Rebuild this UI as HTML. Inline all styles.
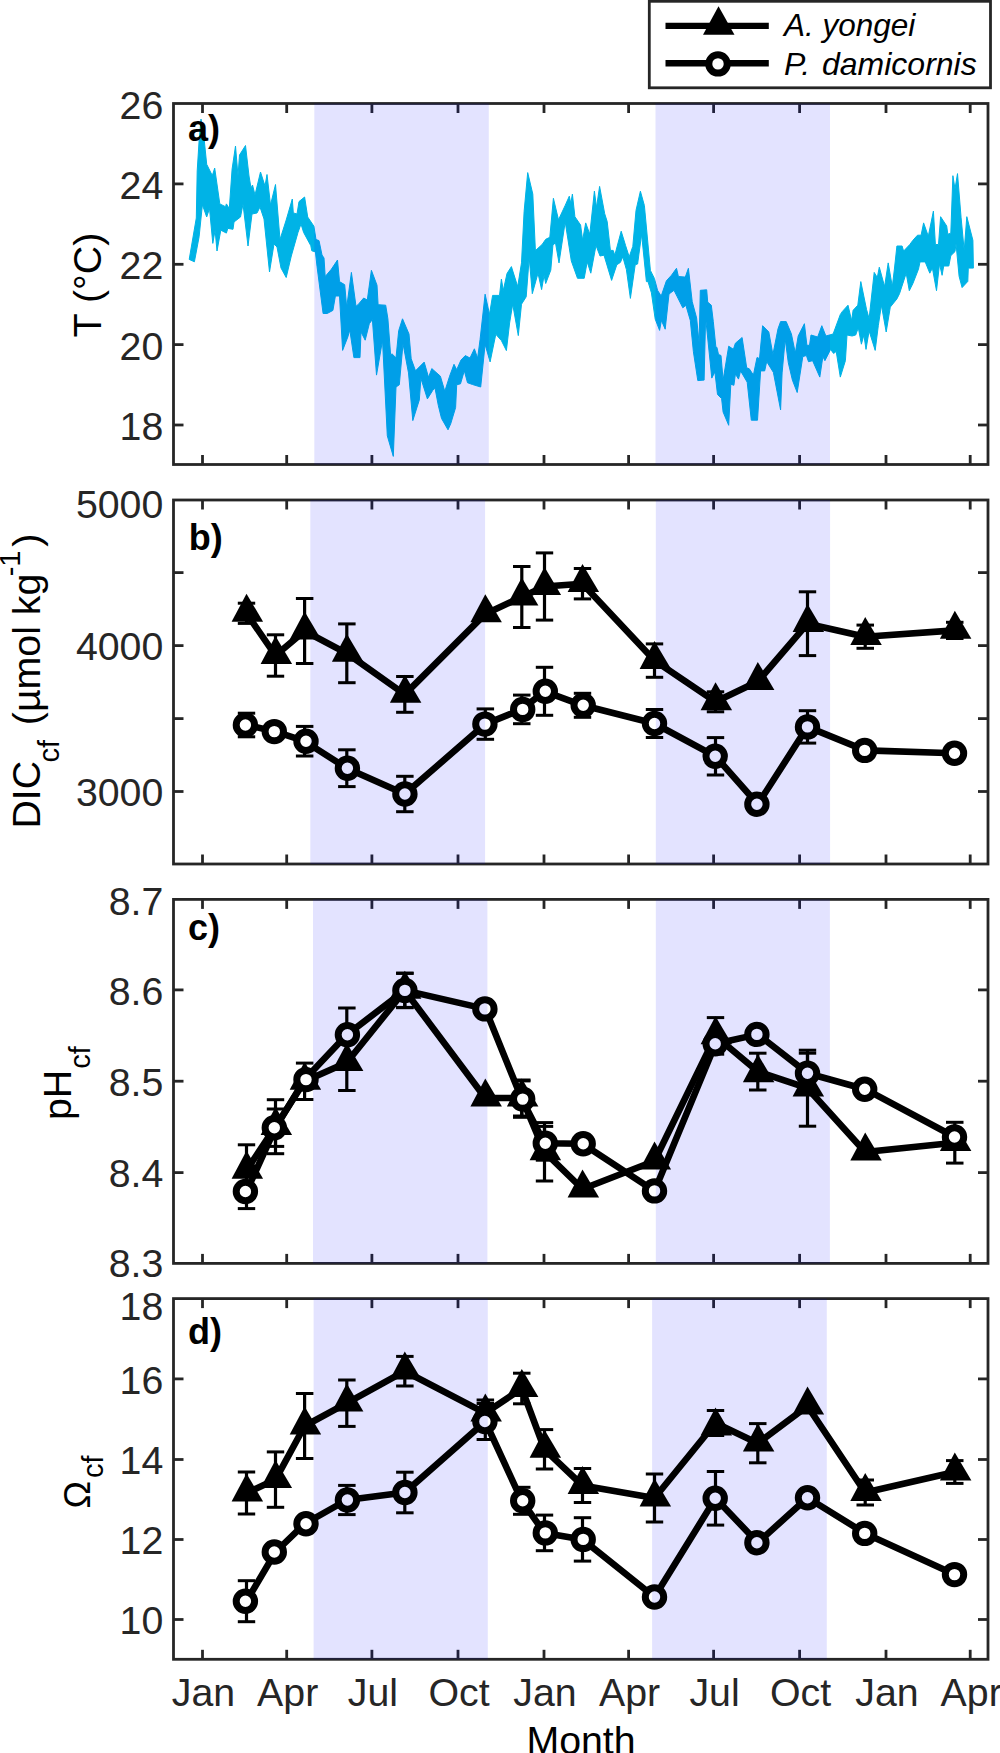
<!DOCTYPE html>
<html><head><meta charset="utf-8"><title>figure</title><style>
html,body{margin:0;padding:0;background:#fff;}
body{width:1000px;height:1753px;overflow:hidden;}
svg{display:block;}
text{font-family:"Liberation Sans",sans-serif;}
.tk{font-size:39.3px;fill:#262626;}
.pl{font-size:36px;font-weight:bold;fill:#000;}
.lab{font-size:39.3px;fill:#000;}
.sub{font-size:29px;}
.lg{font-size:31.5px;font-style:italic;fill:#000;}
</style></head><body>
<svg width="1000" height="1753" viewBox="0 0 1000 1753">
<defs><clipPath id="scb"><rect x="310.3" y="500" width="174.8" height="364"/><rect x="655.8" y="500" width="174.3" height="364"/></clipPath><clipPath id="scc"><rect x="313" y="899.4" width="174.4" height="364"/><rect x="655.8" y="899.4" width="174.1" height="364"/></clipPath><clipPath id="scd"><rect x="313.6" y="1298.6" width="174.2" height="360.7"/><rect x="652.1" y="1298.6" width="174.7" height="360.7"/></clipPath></defs>
<rect x="0" y="0" width="1000" height="1753" fill="#fff"/>
<rect x="173.5" y="103.5" width="814.5" height="361.0" fill="none" stroke="#262626" stroke-width="2.8"/>
<line x1="202.5" y1="103.5" x2="202.5" y2="113.0" stroke="#262626" stroke-width="2.8"/>
<line x1="202.5" y1="464.5" x2="202.5" y2="455.0" stroke="#262626" stroke-width="2.8"/>
<line x1="286.7" y1="103.5" x2="286.7" y2="113.0" stroke="#262626" stroke-width="2.8"/>
<line x1="286.7" y1="464.5" x2="286.7" y2="455.0" stroke="#262626" stroke-width="2.8"/>
<line x1="371.9" y1="103.5" x2="371.9" y2="113.0" stroke="#262626" stroke-width="2.8"/>
<line x1="371.9" y1="464.5" x2="371.9" y2="455.0" stroke="#262626" stroke-width="2.8"/>
<line x1="458.0" y1="103.5" x2="458.0" y2="113.0" stroke="#262626" stroke-width="2.8"/>
<line x1="458.0" y1="464.5" x2="458.0" y2="455.0" stroke="#262626" stroke-width="2.8"/>
<line x1="544.0" y1="103.5" x2="544.0" y2="113.0" stroke="#262626" stroke-width="2.8"/>
<line x1="544.0" y1="464.5" x2="544.0" y2="455.0" stroke="#262626" stroke-width="2.8"/>
<line x1="628.6" y1="103.5" x2="628.6" y2="113.0" stroke="#262626" stroke-width="2.8"/>
<line x1="628.6" y1="464.5" x2="628.6" y2="455.0" stroke="#262626" stroke-width="2.8"/>
<line x1="713.6" y1="103.5" x2="713.6" y2="113.0" stroke="#262626" stroke-width="2.8"/>
<line x1="713.6" y1="464.5" x2="713.6" y2="455.0" stroke="#262626" stroke-width="2.8"/>
<line x1="799.6" y1="103.5" x2="799.6" y2="113.0" stroke="#262626" stroke-width="2.8"/>
<line x1="799.6" y1="464.5" x2="799.6" y2="455.0" stroke="#262626" stroke-width="2.8"/>
<line x1="886.0" y1="103.5" x2="886.0" y2="113.0" stroke="#262626" stroke-width="2.8"/>
<line x1="886.0" y1="464.5" x2="886.0" y2="455.0" stroke="#262626" stroke-width="2.8"/>
<line x1="970.2" y1="103.5" x2="970.2" y2="113.0" stroke="#262626" stroke-width="2.8"/>
<line x1="970.2" y1="464.5" x2="970.2" y2="455.0" stroke="#262626" stroke-width="2.8"/>
<line x1="173.5" y1="183.9" x2="183.5" y2="183.9" stroke="#262626" stroke-width="2.8"/>
<line x1="988.0" y1="183.9" x2="978.0" y2="183.9" stroke="#262626" stroke-width="2.8"/>
<line x1="173.5" y1="264.3" x2="183.5" y2="264.3" stroke="#262626" stroke-width="2.8"/>
<line x1="988.0" y1="264.3" x2="978.0" y2="264.3" stroke="#262626" stroke-width="2.8"/>
<line x1="173.5" y1="344.6" x2="183.5" y2="344.6" stroke="#262626" stroke-width="2.8"/>
<line x1="988.0" y1="344.6" x2="978.0" y2="344.6" stroke="#262626" stroke-width="2.8"/>
<line x1="173.5" y1="425.0" x2="183.5" y2="425.0" stroke="#262626" stroke-width="2.8"/>
<line x1="988.0" y1="425.0" x2="978.0" y2="425.0" stroke="#262626" stroke-width="2.8"/>
<text x="163.3" y="118.5" text-anchor="end" class="tk">26</text>
<text x="163.3" y="198.6" text-anchor="end" class="tk">24</text>
<text x="163.3" y="279.1" text-anchor="end" class="tk">22</text>
<text x="163.3" y="359.8" text-anchor="end" class="tk">20</text>
<text x="163.3" y="440.3" text-anchor="end" class="tk">18</text>
<rect x="173.5" y="500.0" width="814.5" height="364.0" fill="none" stroke="#262626" stroke-width="2.8"/>
<line x1="202.5" y1="500.0" x2="202.5" y2="509.5" stroke="#262626" stroke-width="2.8"/>
<line x1="202.5" y1="864.0" x2="202.5" y2="854.5" stroke="#262626" stroke-width="2.8"/>
<line x1="286.7" y1="500.0" x2="286.7" y2="509.5" stroke="#262626" stroke-width="2.8"/>
<line x1="286.7" y1="864.0" x2="286.7" y2="854.5" stroke="#262626" stroke-width="2.8"/>
<line x1="371.9" y1="500.0" x2="371.9" y2="509.5" stroke="#262626" stroke-width="2.8"/>
<line x1="371.9" y1="864.0" x2="371.9" y2="854.5" stroke="#262626" stroke-width="2.8"/>
<line x1="458.0" y1="500.0" x2="458.0" y2="509.5" stroke="#262626" stroke-width="2.8"/>
<line x1="458.0" y1="864.0" x2="458.0" y2="854.5" stroke="#262626" stroke-width="2.8"/>
<line x1="544.0" y1="500.0" x2="544.0" y2="509.5" stroke="#262626" stroke-width="2.8"/>
<line x1="544.0" y1="864.0" x2="544.0" y2="854.5" stroke="#262626" stroke-width="2.8"/>
<line x1="628.6" y1="500.0" x2="628.6" y2="509.5" stroke="#262626" stroke-width="2.8"/>
<line x1="628.6" y1="864.0" x2="628.6" y2="854.5" stroke="#262626" stroke-width="2.8"/>
<line x1="713.6" y1="500.0" x2="713.6" y2="509.5" stroke="#262626" stroke-width="2.8"/>
<line x1="713.6" y1="864.0" x2="713.6" y2="854.5" stroke="#262626" stroke-width="2.8"/>
<line x1="799.6" y1="500.0" x2="799.6" y2="509.5" stroke="#262626" stroke-width="2.8"/>
<line x1="799.6" y1="864.0" x2="799.6" y2="854.5" stroke="#262626" stroke-width="2.8"/>
<line x1="886.0" y1="500.0" x2="886.0" y2="509.5" stroke="#262626" stroke-width="2.8"/>
<line x1="886.0" y1="864.0" x2="886.0" y2="854.5" stroke="#262626" stroke-width="2.8"/>
<line x1="970.2" y1="500.0" x2="970.2" y2="509.5" stroke="#262626" stroke-width="2.8"/>
<line x1="970.2" y1="864.0" x2="970.2" y2="854.5" stroke="#262626" stroke-width="2.8"/>
<line x1="173.5" y1="572.6" x2="183.5" y2="572.6" stroke="#262626" stroke-width="2.8"/>
<line x1="988.0" y1="572.6" x2="978.0" y2="572.6" stroke="#262626" stroke-width="2.8"/>
<line x1="173.5" y1="645.6" x2="183.5" y2="645.6" stroke="#262626" stroke-width="2.8"/>
<line x1="988.0" y1="645.6" x2="978.0" y2="645.6" stroke="#262626" stroke-width="2.8"/>
<line x1="173.5" y1="718.6" x2="183.5" y2="718.6" stroke="#262626" stroke-width="2.8"/>
<line x1="988.0" y1="718.6" x2="978.0" y2="718.6" stroke="#262626" stroke-width="2.8"/>
<line x1="173.5" y1="791.5" x2="183.5" y2="791.5" stroke="#262626" stroke-width="2.8"/>
<line x1="988.0" y1="791.5" x2="978.0" y2="791.5" stroke="#262626" stroke-width="2.8"/>
<text x="163.3" y="517.8" text-anchor="end" class="tk">5000</text>
<text x="163.3" y="660.3" text-anchor="end" class="tk">4000</text>
<text x="163.3" y="805.6" text-anchor="end" class="tk">3000</text>
<rect x="173.5" y="899.4" width="814.5" height="364.0000000000001" fill="none" stroke="#262626" stroke-width="2.8"/>
<line x1="202.5" y1="899.4" x2="202.5" y2="908.9" stroke="#262626" stroke-width="2.8"/>
<line x1="202.5" y1="1263.4" x2="202.5" y2="1253.9" stroke="#262626" stroke-width="2.8"/>
<line x1="286.7" y1="899.4" x2="286.7" y2="908.9" stroke="#262626" stroke-width="2.8"/>
<line x1="286.7" y1="1263.4" x2="286.7" y2="1253.9" stroke="#262626" stroke-width="2.8"/>
<line x1="371.9" y1="899.4" x2="371.9" y2="908.9" stroke="#262626" stroke-width="2.8"/>
<line x1="371.9" y1="1263.4" x2="371.9" y2="1253.9" stroke="#262626" stroke-width="2.8"/>
<line x1="458.0" y1="899.4" x2="458.0" y2="908.9" stroke="#262626" stroke-width="2.8"/>
<line x1="458.0" y1="1263.4" x2="458.0" y2="1253.9" stroke="#262626" stroke-width="2.8"/>
<line x1="544.0" y1="899.4" x2="544.0" y2="908.9" stroke="#262626" stroke-width="2.8"/>
<line x1="544.0" y1="1263.4" x2="544.0" y2="1253.9" stroke="#262626" stroke-width="2.8"/>
<line x1="628.6" y1="899.4" x2="628.6" y2="908.9" stroke="#262626" stroke-width="2.8"/>
<line x1="628.6" y1="1263.4" x2="628.6" y2="1253.9" stroke="#262626" stroke-width="2.8"/>
<line x1="713.6" y1="899.4" x2="713.6" y2="908.9" stroke="#262626" stroke-width="2.8"/>
<line x1="713.6" y1="1263.4" x2="713.6" y2="1253.9" stroke="#262626" stroke-width="2.8"/>
<line x1="799.6" y1="899.4" x2="799.6" y2="908.9" stroke="#262626" stroke-width="2.8"/>
<line x1="799.6" y1="1263.4" x2="799.6" y2="1253.9" stroke="#262626" stroke-width="2.8"/>
<line x1="886.0" y1="899.4" x2="886.0" y2="908.9" stroke="#262626" stroke-width="2.8"/>
<line x1="886.0" y1="1263.4" x2="886.0" y2="1253.9" stroke="#262626" stroke-width="2.8"/>
<line x1="970.2" y1="899.4" x2="970.2" y2="908.9" stroke="#262626" stroke-width="2.8"/>
<line x1="970.2" y1="1263.4" x2="970.2" y2="1253.9" stroke="#262626" stroke-width="2.8"/>
<line x1="173.5" y1="989.9" x2="183.5" y2="989.9" stroke="#262626" stroke-width="2.8"/>
<line x1="988.0" y1="989.9" x2="978.0" y2="989.9" stroke="#262626" stroke-width="2.8"/>
<line x1="173.5" y1="1081.2" x2="183.5" y2="1081.2" stroke="#262626" stroke-width="2.8"/>
<line x1="988.0" y1="1081.2" x2="978.0" y2="1081.2" stroke="#262626" stroke-width="2.8"/>
<line x1="173.5" y1="1172.6" x2="183.5" y2="1172.6" stroke="#262626" stroke-width="2.8"/>
<line x1="988.0" y1="1172.6" x2="978.0" y2="1172.6" stroke="#262626" stroke-width="2.8"/>
<text x="163.3" y="914.7" text-anchor="end" class="tk">8.7</text>
<text x="163.3" y="1005.3" text-anchor="end" class="tk">8.6</text>
<text x="163.3" y="1095.9" text-anchor="end" class="tk">8.5</text>
<text x="163.3" y="1187" text-anchor="end" class="tk">8.4</text>
<text x="163.3" y="1277.2" text-anchor="end" class="tk">8.3</text>
<rect x="173.5" y="1298.6" width="814.5" height="360.70000000000005" fill="none" stroke="#262626" stroke-width="2.8"/>
<line x1="202.5" y1="1298.6" x2="202.5" y2="1308.1" stroke="#262626" stroke-width="2.8"/>
<line x1="202.5" y1="1659.3" x2="202.5" y2="1649.8" stroke="#262626" stroke-width="2.8"/>
<line x1="286.7" y1="1298.6" x2="286.7" y2="1308.1" stroke="#262626" stroke-width="2.8"/>
<line x1="286.7" y1="1659.3" x2="286.7" y2="1649.8" stroke="#262626" stroke-width="2.8"/>
<line x1="371.9" y1="1298.6" x2="371.9" y2="1308.1" stroke="#262626" stroke-width="2.8"/>
<line x1="371.9" y1="1659.3" x2="371.9" y2="1649.8" stroke="#262626" stroke-width="2.8"/>
<line x1="458.0" y1="1298.6" x2="458.0" y2="1308.1" stroke="#262626" stroke-width="2.8"/>
<line x1="458.0" y1="1659.3" x2="458.0" y2="1649.8" stroke="#262626" stroke-width="2.8"/>
<line x1="544.0" y1="1298.6" x2="544.0" y2="1308.1" stroke="#262626" stroke-width="2.8"/>
<line x1="544.0" y1="1659.3" x2="544.0" y2="1649.8" stroke="#262626" stroke-width="2.8"/>
<line x1="628.6" y1="1298.6" x2="628.6" y2="1308.1" stroke="#262626" stroke-width="2.8"/>
<line x1="628.6" y1="1659.3" x2="628.6" y2="1649.8" stroke="#262626" stroke-width="2.8"/>
<line x1="713.6" y1="1298.6" x2="713.6" y2="1308.1" stroke="#262626" stroke-width="2.8"/>
<line x1="713.6" y1="1659.3" x2="713.6" y2="1649.8" stroke="#262626" stroke-width="2.8"/>
<line x1="799.6" y1="1298.6" x2="799.6" y2="1308.1" stroke="#262626" stroke-width="2.8"/>
<line x1="799.6" y1="1659.3" x2="799.6" y2="1649.8" stroke="#262626" stroke-width="2.8"/>
<line x1="886.0" y1="1298.6" x2="886.0" y2="1308.1" stroke="#262626" stroke-width="2.8"/>
<line x1="886.0" y1="1659.3" x2="886.0" y2="1649.8" stroke="#262626" stroke-width="2.8"/>
<line x1="970.2" y1="1298.6" x2="970.2" y2="1308.1" stroke="#262626" stroke-width="2.8"/>
<line x1="970.2" y1="1659.3" x2="970.2" y2="1649.8" stroke="#262626" stroke-width="2.8"/>
<line x1="173.5" y1="1378.9" x2="183.5" y2="1378.9" stroke="#262626" stroke-width="2.8"/>
<line x1="988.0" y1="1378.9" x2="978.0" y2="1378.9" stroke="#262626" stroke-width="2.8"/>
<line x1="173.5" y1="1459.5" x2="183.5" y2="1459.5" stroke="#262626" stroke-width="2.8"/>
<line x1="988.0" y1="1459.5" x2="978.0" y2="1459.5" stroke="#262626" stroke-width="2.8"/>
<line x1="173.5" y1="1539.5" x2="183.5" y2="1539.5" stroke="#262626" stroke-width="2.8"/>
<line x1="988.0" y1="1539.5" x2="978.0" y2="1539.5" stroke="#262626" stroke-width="2.8"/>
<line x1="173.5" y1="1619.5" x2="183.5" y2="1619.5" stroke="#262626" stroke-width="2.8"/>
<line x1="988.0" y1="1619.5" x2="978.0" y2="1619.5" stroke="#262626" stroke-width="2.8"/>
<text x="163.3" y="1319.8" text-anchor="end" class="tk">18</text>
<text x="163.3" y="1393.8" text-anchor="end" class="tk">16</text>
<text x="163.3" y="1473.8" text-anchor="end" class="tk">14</text>
<text x="163.3" y="1554.1" text-anchor="end" class="tk">12</text>
<text x="163.3" y="1634.4" text-anchor="end" class="tk">10</text>
<text x="203.5" y="1705.5" text-anchor="middle" class="tk">Jan</text>
<text x="287.7" y="1705.5" text-anchor="middle" class="tk">Apr</text>
<text x="372.9" y="1705.5" text-anchor="middle" class="tk">Jul</text>
<text x="459" y="1705.5" text-anchor="middle" class="tk">Oct</text>
<text x="545" y="1705.5" text-anchor="middle" class="tk">Jan</text>
<text x="629.6" y="1705.5" text-anchor="middle" class="tk">Apr</text>
<text x="714.6" y="1705.5" text-anchor="middle" class="tk">Jul</text>
<text x="800.6" y="1705.5" text-anchor="middle" class="tk">Oct</text>
<text x="887" y="1705.5" text-anchor="middle" class="tk">Jan</text>
<text x="971.2" y="1705.5" text-anchor="middle" class="tk">Apr</text>
<polygon fill="#00b3e6" stroke="#00b3e6" stroke-width="1" stroke-linejoin="round" points="189.2,259.4 196.3,218 197.2,170.9 199.1,140.8 201,119.1 204.3,140.8 206.7,164.3 212.3,175.6 214.7,168.1 219.8,203.9 225.5,206.7 226.4,203.9 229.3,208.6 232.1,169 235.5,146 238,176 239.5,155 245.5,145.5 249,176 251,188 252.5,185 255,195 260.5,172 265,186 267,174.5 270.5,205 275.5,184.5 280,239.5 286.2,220 292.3,199 293.3,212.9 297,214 299,201.6 304.6,197 307.7,217 313.9,226.2 316,239.5 319,240.6 322,255 324,258 325.2,276.5 331.3,269.3 337.5,260 339.5,281.6 344.7,284.7 346.7,307.3 351.4,272.4 356,306.3 358,304.7 363.7,298 367.3,300 371.4,270.3 377,285.2 378.1,304.7 385.7,305.2 387.9,318.8 390.6,354.5 392.2,354 396,357.8 398.7,330.7 402.5,318.8 409,334 411.2,358.8 415.5,370.8 424.2,362.1 428.5,377.3 431.8,368.6 440.4,376.2 444.8,391.3 449.6,376.2 454,364.3 456.7,369.7 461,360 465.3,355.6 470,358 474.4,348.8 477.6,358.2 480.1,339.3 485.1,294.2 489.5,314.3 492.6,295.4 499.5,295.4 501.4,279.1 503.3,290.4 507,273.5 511.4,266.6 517.7,286.6 521.5,262.8 524.1,211.6 527.7,172.6 532.8,194.1 535.4,250.6 542.1,244.5 545.7,239.3 549.8,237.3 553.4,198.3 558.5,219.8 565.2,205.4 569.3,196.2 570.8,203.4 572.4,194.1 574.9,216.7 580.6,225 582.6,240.3 585.7,222.9 589.8,234.2 594.4,191.1 596.5,207.5 599.6,186.4 604.7,213.7 607.2,221.6 610.4,250.4 613.2,250.4 614.8,255.2 621.2,231.2 625.6,245.6 629.2,256.8 632.8,246.4 636,210.4 640.4,191.2 644.4,205.6 650.4,270.4 654.4,278.4 657.6,290.4 661.2,296 666.4,280.8 671.5,275.2 676.5,268.3 678.4,276.5 685.3,277.1 688.4,268.3 692.2,301.6 696.6,317.9 699.1,343 700.3,290.3 706.7,289.8 707.7,302.1 711.3,305.2 713.3,321.6 715.9,347.3 716.9,347.3 718.5,354.5 721,355.5 723.1,380.1 728.7,346.2 733.4,349.3 735.4,343.2 742.1,337.5 746.7,367.8 749.3,368.8 753.4,375 757,357.5 759.5,358.6 762.6,325.7 768.8,331.9 772.9,354.5 778,328.8 780.6,321.6 786.2,321.6 791.4,333.9 795.3,353 798.2,336 804.4,323.7 806.9,345.3 809.5,345.3 811,335 817.7,337 821.8,325.7 825.9,336 833.1,334 840.3,314.5 842.4,311.4 848,305.2 851.6,320.6 853.1,310.3 857.8,305.2 860.8,281.6 866.5,309.3 869.1,318.6 874.2,272.4 877.3,277.5 879.3,267.2 884.6,286.6 888.2,262.9 892.3,286.6 894.4,269.1 896.9,246 902.1,246 903.6,251.1 909.8,244.5 912.9,240.3 917.5,235.2 921.1,235.2 923.6,222.9 928.3,236.2 933.4,211.1 935.4,244.5 938.5,244.5 940.6,216.7 946.7,226 947.8,234.2 950.8,233.2 952.9,175.7 955,189 957.5,173.6 961.1,217.8 964.2,250.6 966.8,216.7 972.9,240.3 973.4,268.1 973.4,268.1 968.3,268.1 967.8,281.4 962.1,287.6 959.1,276.3 956,243.4 955,251.6 950.8,255.7 948.8,266 943.7,266 942.1,275.3 939.5,264 936.5,290.7 932.4,268.1 929.8,273.2 925.2,261.9 920,261.9 918.5,269.1 912.9,283.5 909.3,290.7 906.2,273.2 899.5,293.7 896.9,298.9 890.3,307.1 886.2,332 881.4,305.2 878.3,325.7 875.2,350.4 869.1,330.9 866,349.4 863.9,335 861.4,344.2 858.3,327.8 855.7,335 852.1,336 847,335 845.4,360.7 840.3,377.1 836.2,351.4 833.6,353.5 830.6,349.4 824.9,360.7 822.9,356.6 819.8,377.1 812.6,360.7 808.5,361.7 806.4,355.5 802.8,356.6 797.2,392.5 792.4,380.1 788.3,362.7 785.2,339.1 782.1,372.9 780.6,409.9 773.4,372.4 766.7,361.6 764.7,370.9 760.6,370.9 757.5,420.2 751.3,420.2 747.2,382.2 740.6,370.9 738.5,379.1 735.4,374 733.9,385.3 730.8,384.2 728.7,425.3 723.1,412 721.6,398.6 717.5,394.5 714.9,371.9 711.8,378.1 705.6,317.5 704.1,380.1 697.8,380.6 693.4,351.7 690.3,320.4 685.9,305.3 682.8,307.8 674,290.3 669,294 665.2,329.2 661.4,320.4 659.6,330.4 655.2,319.1 651.4,292.8 648,281.6 646.4,281.6 641.6,234.4 637.6,264 635.2,264.8 630.4,298.4 626.4,269.6 622.8,256.8 620.4,262.4 616.8,264.8 611.6,280.4 604,255.2 600,256 596,245.5 590.8,273.2 587.2,261.9 584.2,278.3 577.5,278.3 571.3,260.9 565.2,221.9 559,262.9 555.4,242.4 552.9,245.5 550.8,270.1 545.7,283.5 544.1,275.3 541.6,289.6 538,273.2 532.3,293.7 529.2,257.8 526.2,296.8 521.5,304.2 518.3,335.6 512.7,304.2 509.6,323 506.4,350.6 501.4,340.6 495.8,334.3 490.1,361.9 485.1,344.4 480.7,387 472.5,384.5 467.5,382.7 464.3,370.8 460.5,383.8 456.7,384.8 455.6,407.6 450.7,423.8 448,429.8 441.5,418.4 438.3,405.4 435,388.1 432.8,390.3 427.4,398.9 420.9,378.3 419.3,400 412.8,420.6 408.5,372.9 403,343.7 399.3,384.8 396,387 393.3,456.4 387.3,435.8 382.5,340.4 376.5,375.1 372.4,319.6 369.3,323.7 365.2,340.2 361,332 360,357.6 353.9,357.6 349.8,330 347.8,337 342.6,350.4 339.5,296 335.4,296 332.9,310.4 327.2,313.5 323.1,313.5 317,266.2 315.4,251.9 311.8,250.8 310.8,245.7 303.6,232.4 301,224 298,232.4 291.3,256 286.2,277.5 281,268 277,247 274,244 269.5,272 264,219 260,207 257,213 252,214 248,246 243,204 240.5,217 234,222 233,229.3 227.8,228.4 226.4,233.1 220.8,230.2 217,251 215.1,230.2 212.8,243.4 209.5,208.6 206.7,217 202.4,204.8 199.1,236.8 194.4,261.8"/>
<rect x="314.3" y="103.5" width="174.5" height="361" fill="#0000ff" fill-opacity="0.11"/>
<rect x="655.5" y="103.5" width="174.5" height="361" fill="#0000ff" fill-opacity="0.11"/>
<rect x="310.3" y="500" width="174.8" height="364" fill="#0000ff" fill-opacity="0.11"/>
<rect x="655.8" y="500" width="174.3" height="364" fill="#0000ff" fill-opacity="0.11"/>
<rect x="313" y="899.4" width="174.4" height="364" fill="#0000ff" fill-opacity="0.11"/>
<rect x="655.8" y="899.4" width="174.1" height="364" fill="#0000ff" fill-opacity="0.11"/>
<rect x="313.6" y="1298.6" width="174.2" height="360.7" fill="#0000ff" fill-opacity="0.11"/>
<rect x="652.1" y="1298.6" width="174.7" height="360.7" fill="#0000ff" fill-opacity="0.11"/>
<polyline fill="none" stroke="#000" stroke-width="6.6" stroke-linejoin="round" points="246.5,613.3 275.5,655.5 304.6,631 346.8,653.3 404.8,694.4 485.3,613.9 521.8,597 544.5,586.5 582.5,583.7 654.5,660.6 715.5,701.8 757.8,681.5 807.5,623.7 865.2,636.7 954.8,630.4"/>
<line x1="246.5" y1="603.2" x2="246.5" y2="623.4" stroke="#000" stroke-width="3.2"/><line x1="237.8" y1="603.2" x2="255.2" y2="603.2" stroke="#000" stroke-width="3"/><line x1="237.8" y1="623.4" x2="255.2" y2="623.4" stroke="#000" stroke-width="3"/>
<line x1="275.5" y1="634.8" x2="275.5" y2="676.2" stroke="#000" stroke-width="3.2"/><line x1="266.8" y1="634.8" x2="284.2" y2="634.8" stroke="#000" stroke-width="3"/><line x1="266.8" y1="676.2" x2="284.2" y2="676.2" stroke="#000" stroke-width="3"/>
<line x1="304.6" y1="598.5" x2="304.6" y2="663.5" stroke="#000" stroke-width="3.2"/><line x1="295.9" y1="598.5" x2="313.4" y2="598.5" stroke="#000" stroke-width="3"/><line x1="295.9" y1="663.5" x2="313.4" y2="663.5" stroke="#000" stroke-width="3"/>
<line x1="346.8" y1="623.9" x2="346.8" y2="682.7" stroke="#000" stroke-width="3.2"/><line x1="338.1" y1="623.9" x2="355.6" y2="623.9" stroke="#000" stroke-width="3"/><line x1="338.1" y1="682.7" x2="355.6" y2="682.7" stroke="#000" stroke-width="3"/>
<line x1="404.8" y1="676.5" x2="404.8" y2="712.3" stroke="#000" stroke-width="3.2"/><line x1="396.1" y1="676.5" x2="413.6" y2="676.5" stroke="#000" stroke-width="3"/><line x1="396.1" y1="712.3" x2="413.6" y2="712.3" stroke="#000" stroke-width="3"/>
<line x1="521.8" y1="566.5" x2="521.8" y2="627.5" stroke="#000" stroke-width="3.2"/><line x1="513" y1="566.5" x2="530.5" y2="566.5" stroke="#000" stroke-width="3"/><line x1="513" y1="627.5" x2="530.5" y2="627.5" stroke="#000" stroke-width="3"/>
<line x1="544.5" y1="552.9" x2="544.5" y2="620.1" stroke="#000" stroke-width="3.2"/><line x1="535.8" y1="552.9" x2="553.2" y2="552.9" stroke="#000" stroke-width="3"/><line x1="535.8" y1="620.1" x2="553.2" y2="620.1" stroke="#000" stroke-width="3"/>
<line x1="582.5" y1="568.5" x2="582.5" y2="598.9" stroke="#000" stroke-width="3.2"/><line x1="573.8" y1="568.5" x2="591.2" y2="568.5" stroke="#000" stroke-width="3"/><line x1="573.8" y1="598.9" x2="591.2" y2="598.9" stroke="#000" stroke-width="3"/>
<line x1="654.5" y1="643.9" x2="654.5" y2="677.3" stroke="#000" stroke-width="3.2"/><line x1="645.8" y1="643.9" x2="663.2" y2="643.9" stroke="#000" stroke-width="3"/><line x1="645.8" y1="677.3" x2="663.2" y2="677.3" stroke="#000" stroke-width="3"/>
<line x1="715.5" y1="691.8" x2="715.5" y2="711.8" stroke="#000" stroke-width="3.2"/><line x1="706.8" y1="691.8" x2="724.2" y2="691.8" stroke="#000" stroke-width="3"/><line x1="706.8" y1="711.8" x2="724.2" y2="711.8" stroke="#000" stroke-width="3"/>
<line x1="807.5" y1="591.8" x2="807.5" y2="655.6" stroke="#000" stroke-width="3.2"/><line x1="798.8" y1="591.8" x2="816.2" y2="591.8" stroke="#000" stroke-width="3"/><line x1="798.8" y1="655.6" x2="816.2" y2="655.6" stroke="#000" stroke-width="3"/>
<line x1="865.2" y1="625.1" x2="865.2" y2="648.3" stroke="#000" stroke-width="3.2"/><line x1="856.5" y1="625.1" x2="874" y2="625.1" stroke="#000" stroke-width="3"/><line x1="856.5" y1="648.3" x2="874" y2="648.3" stroke="#000" stroke-width="3"/>
<line x1="954.8" y1="622.3" x2="954.8" y2="638.5" stroke="#000" stroke-width="3.2"/><line x1="946" y1="622.3" x2="963.5" y2="622.3" stroke="#000" stroke-width="3"/><line x1="946" y1="638.5" x2="963.5" y2="638.5" stroke="#000" stroke-width="3"/>
<polygon points="246.5,593.7 231.6,621.7 263.1,621.7" fill="#000"/>
<polygon points="275.5,635.9 260.6,663.9 292.1,663.9" fill="#000"/>
<polygon points="304.6,611.4 289.7,639.4 321.2,639.4" fill="#000"/>
<polygon points="346.8,633.7 331.9,661.7 363.4,661.7" fill="#000"/>
<polygon points="404.8,674.8 389.9,702.8 421.4,702.8" fill="#000"/>
<polygon points="485.3,594.3 470.4,622.3 501.9,622.3" fill="#000"/>
<polygon points="521.8,577.4 506.9,605.4 538.4,605.4" fill="#000"/>
<polygon points="544.5,566.9 529.6,594.9 561.1,594.9" fill="#000"/>
<polygon points="582.5,564.1 567.6,592.1 599.1,592.1" fill="#000"/>
<polygon points="654.5,641 639.6,669 671.1,669" fill="#000"/>
<polygon points="715.5,682.2 700.6,710.2 732.1,710.2" fill="#000"/>
<polygon points="757.8,661.9 742.9,689.9 774.4,689.9" fill="#000"/>
<polygon points="807.5,604.1 792.6,632.1 824.1,632.1" fill="#000"/>
<polygon points="865.2,617.1 850.3,645.1 881.8,645.1" fill="#000"/>
<polygon points="954.8,610.8 939.9,638.8 971.4,638.8" fill="#000"/>
<polyline fill="none" stroke="#000" stroke-width="6.6" stroke-linejoin="round" points="246.5,725 275.5,731.6 304.6,741.2 346.8,768.2 404.8,794 485.3,724.1 521.8,709.4 544.5,691.3 582.5,705.3 654.5,723.5 715.5,756.3 757.8,804.3 807.5,726.9 865.2,750.4 954.8,753.3"/>
<line x1="246.5" y1="713.2" x2="246.5" y2="736.8" stroke="#000" stroke-width="3.2"/><line x1="237.8" y1="713.2" x2="255.2" y2="713.2" stroke="#000" stroke-width="3"/><line x1="237.8" y1="736.8" x2="255.2" y2="736.8" stroke="#000" stroke-width="3"/>
<line x1="304.6" y1="726.4" x2="304.6" y2="756" stroke="#000" stroke-width="3.2"/><line x1="295.9" y1="726.4" x2="313.4" y2="726.4" stroke="#000" stroke-width="3"/><line x1="295.9" y1="756" x2="313.4" y2="756" stroke="#000" stroke-width="3"/>
<line x1="346.8" y1="749.8" x2="346.8" y2="786.6" stroke="#000" stroke-width="3.2"/><line x1="338.1" y1="749.8" x2="355.6" y2="749.8" stroke="#000" stroke-width="3"/><line x1="338.1" y1="786.6" x2="355.6" y2="786.6" stroke="#000" stroke-width="3"/>
<line x1="404.8" y1="776.3" x2="404.8" y2="811.7" stroke="#000" stroke-width="3.2"/><line x1="396.1" y1="776.3" x2="413.6" y2="776.3" stroke="#000" stroke-width="3"/><line x1="396.1" y1="811.7" x2="413.6" y2="811.7" stroke="#000" stroke-width="3"/>
<line x1="485.3" y1="708.9" x2="485.3" y2="739.3" stroke="#000" stroke-width="3.2"/><line x1="476.6" y1="708.9" x2="494.1" y2="708.9" stroke="#000" stroke-width="3"/><line x1="476.6" y1="739.3" x2="494.1" y2="739.3" stroke="#000" stroke-width="3"/>
<line x1="521.8" y1="695.1" x2="521.8" y2="723.7" stroke="#000" stroke-width="3.2"/><line x1="513" y1="695.1" x2="530.5" y2="695.1" stroke="#000" stroke-width="3"/><line x1="513" y1="723.7" x2="530.5" y2="723.7" stroke="#000" stroke-width="3"/>
<line x1="544.5" y1="667.3" x2="544.5" y2="715.3" stroke="#000" stroke-width="3.2"/><line x1="535.8" y1="667.3" x2="553.2" y2="667.3" stroke="#000" stroke-width="3"/><line x1="535.8" y1="715.3" x2="553.2" y2="715.3" stroke="#000" stroke-width="3"/>
<line x1="582.5" y1="693.3" x2="582.5" y2="717.3" stroke="#000" stroke-width="3.2"/><line x1="573.8" y1="693.3" x2="591.2" y2="693.3" stroke="#000" stroke-width="3"/><line x1="573.8" y1="717.3" x2="591.2" y2="717.3" stroke="#000" stroke-width="3"/>
<line x1="654.5" y1="709.5" x2="654.5" y2="737.5" stroke="#000" stroke-width="3.2"/><line x1="645.8" y1="709.5" x2="663.2" y2="709.5" stroke="#000" stroke-width="3"/><line x1="645.8" y1="737.5" x2="663.2" y2="737.5" stroke="#000" stroke-width="3"/>
<line x1="715.5" y1="737.6" x2="715.5" y2="775" stroke="#000" stroke-width="3.2"/><line x1="706.8" y1="737.6" x2="724.2" y2="737.6" stroke="#000" stroke-width="3"/><line x1="706.8" y1="775" x2="724.2" y2="775" stroke="#000" stroke-width="3"/>
<line x1="807.5" y1="710.7" x2="807.5" y2="743.1" stroke="#000" stroke-width="3.2"/><line x1="798.8" y1="710.7" x2="816.2" y2="710.7" stroke="#000" stroke-width="3"/><line x1="798.8" y1="743.1" x2="816.2" y2="743.1" stroke="#000" stroke-width="3"/>
<circle cx="245.4" cy="725" r="9.2" fill="#fff" stroke="#000" stroke-width="7.0"/><circle cx="245.4" cy="725" r="6" fill="#0000ff" fill-opacity="0.11" clip-path="url(#scb)"/>
<circle cx="274.3" cy="731.6" r="9.2" fill="#fff" stroke="#000" stroke-width="7.0"/><circle cx="274.3" cy="731.6" r="6" fill="#0000ff" fill-opacity="0.11" clip-path="url(#scb)"/>
<circle cx="306" cy="741.2" r="9.2" fill="#fff" stroke="#000" stroke-width="7.0"/><circle cx="306" cy="741.2" r="6" fill="#0000ff" fill-opacity="0.11" clip-path="url(#scb)"/>
<circle cx="347.4" cy="768.2" r="9.2" fill="#fff" stroke="#000" stroke-width="7.0"/><circle cx="347.4" cy="768.2" r="6" fill="#0000ff" fill-opacity="0.11" clip-path="url(#scb)"/>
<circle cx="404.9" cy="794" r="9.2" fill="#fff" stroke="#000" stroke-width="7.0"/><circle cx="404.9" cy="794" r="6" fill="#0000ff" fill-opacity="0.11" clip-path="url(#scb)"/>
<circle cx="484.9" cy="724.1" r="9.2" fill="#fff" stroke="#000" stroke-width="7.0"/><circle cx="484.9" cy="724.1" r="6" fill="#0000ff" fill-opacity="0.11" clip-path="url(#scb)"/>
<circle cx="522.7" cy="709.4" r="9.2" fill="#fff" stroke="#000" stroke-width="7.0"/><circle cx="522.7" cy="709.4" r="6" fill="#0000ff" fill-opacity="0.11" clip-path="url(#scb)"/>
<circle cx="545.3" cy="691.3" r="9.2" fill="#fff" stroke="#000" stroke-width="7.0"/><circle cx="545.3" cy="691.3" r="6" fill="#0000ff" fill-opacity="0.11" clip-path="url(#scb)"/>
<circle cx="583.2" cy="705.3" r="9.2" fill="#fff" stroke="#000" stroke-width="7.0"/><circle cx="583.2" cy="705.3" r="6" fill="#0000ff" fill-opacity="0.11" clip-path="url(#scb)"/>
<circle cx="654.5" cy="723.5" r="9.2" fill="#fff" stroke="#000" stroke-width="7.0"/><circle cx="654.5" cy="723.5" r="6" fill="#0000ff" fill-opacity="0.11" clip-path="url(#scb)"/>
<circle cx="715.2" cy="756.3" r="9.2" fill="#fff" stroke="#000" stroke-width="7.0"/><circle cx="715.2" cy="756.3" r="6" fill="#0000ff" fill-opacity="0.11" clip-path="url(#scb)"/>
<circle cx="756.9" cy="804.3" r="9.2" fill="#fff" stroke="#000" stroke-width="7.0"/><circle cx="756.9" cy="804.3" r="6" fill="#0000ff" fill-opacity="0.11" clip-path="url(#scb)"/>
<circle cx="807.5" cy="726.9" r="9.2" fill="#fff" stroke="#000" stroke-width="7.0"/><circle cx="807.5" cy="726.9" r="6" fill="#0000ff" fill-opacity="0.11" clip-path="url(#scb)"/>
<circle cx="864.7" cy="750.4" r="9.2" fill="#fff" stroke="#000" stroke-width="7.0"/><circle cx="864.7" cy="750.4" r="6" fill="#0000ff" fill-opacity="0.11" clip-path="url(#scb)"/>
<circle cx="954.5" cy="753.3" r="9.2" fill="#fff" stroke="#000" stroke-width="7.0"/><circle cx="954.5" cy="753.3" r="6" fill="#0000ff" fill-opacity="0.11" clip-path="url(#scb)"/>
<polyline fill="none" stroke="#000" stroke-width="6.6" stroke-linejoin="round" points="246.5,1170.3 275.5,1126.7 304.6,1081.3 346.8,1062.5 404.8,990.4 485.3,1098 521.8,1098 544.5,1151.8 582.5,1189 654.5,1161 715.5,1035.9 757.8,1071.6 807.5,1088.2 865.2,1152 954.8,1142.7"/>
<line x1="246.5" y1="1144.8" x2="246.5" y2="1195.8" stroke="#000" stroke-width="3.2"/><line x1="237.8" y1="1144.8" x2="255.2" y2="1144.8" stroke="#000" stroke-width="3"/><line x1="237.8" y1="1195.8" x2="255.2" y2="1195.8" stroke="#000" stroke-width="3"/>
<line x1="275.5" y1="1099.7" x2="275.5" y2="1153.7" stroke="#000" stroke-width="3.2"/><line x1="266.8" y1="1099.7" x2="284.2" y2="1099.7" stroke="#000" stroke-width="3"/><line x1="266.8" y1="1153.7" x2="284.2" y2="1153.7" stroke="#000" stroke-width="3"/>
<line x1="304.6" y1="1063.1" x2="304.6" y2="1099.5" stroke="#000" stroke-width="3.2"/><line x1="295.9" y1="1063.1" x2="313.4" y2="1063.1" stroke="#000" stroke-width="3"/><line x1="295.9" y1="1099.5" x2="313.4" y2="1099.5" stroke="#000" stroke-width="3"/>
<line x1="346.8" y1="1034.5" x2="346.8" y2="1090.5" stroke="#000" stroke-width="3.2"/><line x1="338.1" y1="1034.5" x2="355.6" y2="1034.5" stroke="#000" stroke-width="3"/><line x1="338.1" y1="1090.5" x2="355.6" y2="1090.5" stroke="#000" stroke-width="3"/>
<line x1="404.8" y1="973.4" x2="404.8" y2="1007.4" stroke="#000" stroke-width="3.2"/><line x1="396.1" y1="973.4" x2="413.6" y2="973.4" stroke="#000" stroke-width="3"/><line x1="396.1" y1="1007.4" x2="413.6" y2="1007.4" stroke="#000" stroke-width="3"/>
<line x1="521.8" y1="1080" x2="521.8" y2="1116" stroke="#000" stroke-width="3.2"/><line x1="513" y1="1080" x2="530.5" y2="1080" stroke="#000" stroke-width="3"/><line x1="513" y1="1116" x2="530.5" y2="1116" stroke="#000" stroke-width="3"/>
<line x1="544.5" y1="1122.6" x2="544.5" y2="1181" stroke="#000" stroke-width="3.2"/><line x1="535.8" y1="1122.6" x2="553.2" y2="1122.6" stroke="#000" stroke-width="3"/><line x1="535.8" y1="1181" x2="553.2" y2="1181" stroke="#000" stroke-width="3"/>
<line x1="715.5" y1="1017.6" x2="715.5" y2="1054.2" stroke="#000" stroke-width="3.2"/><line x1="706.8" y1="1017.6" x2="724.2" y2="1017.6" stroke="#000" stroke-width="3"/><line x1="706.8" y1="1054.2" x2="724.2" y2="1054.2" stroke="#000" stroke-width="3"/>
<line x1="757.8" y1="1053.2" x2="757.8" y2="1090" stroke="#000" stroke-width="3.2"/><line x1="749" y1="1053.2" x2="766.5" y2="1053.2" stroke="#000" stroke-width="3"/><line x1="749" y1="1090" x2="766.5" y2="1090" stroke="#000" stroke-width="3"/>
<line x1="807.5" y1="1050.2" x2="807.5" y2="1126.2" stroke="#000" stroke-width="3.2"/><line x1="798.8" y1="1050.2" x2="816.2" y2="1050.2" stroke="#000" stroke-width="3"/><line x1="798.8" y1="1126.2" x2="816.2" y2="1126.2" stroke="#000" stroke-width="3"/>
<line x1="954.8" y1="1122.3" x2="954.8" y2="1163.1" stroke="#000" stroke-width="3.2"/><line x1="946" y1="1122.3" x2="963.5" y2="1122.3" stroke="#000" stroke-width="3"/><line x1="946" y1="1163.1" x2="963.5" y2="1163.1" stroke="#000" stroke-width="3"/>
<polygon points="246.5,1150.7 231.6,1178.7 263.1,1178.7" fill="#000"/>
<polygon points="275.5,1107.1 260.6,1135.1 292.1,1135.1" fill="#000"/>
<polygon points="304.6,1061.7 289.7,1089.7 321.2,1089.7" fill="#000"/>
<polygon points="346.8,1042.9 331.9,1070.9 363.4,1070.9" fill="#000"/>
<polygon points="404.8,970.8 389.9,998.8 421.4,998.8" fill="#000"/>
<polygon points="485.3,1078.4 470.4,1106.4 501.9,1106.4" fill="#000"/>
<polygon points="521.8,1078.4 506.9,1106.4 538.4,1106.4" fill="#000"/>
<polygon points="544.5,1132.2 529.6,1160.2 561.1,1160.2" fill="#000"/>
<polygon points="582.5,1169.4 567.6,1197.4 599.1,1197.4" fill="#000"/>
<polygon points="654.5,1141.4 639.6,1169.4 671.1,1169.4" fill="#000"/>
<polygon points="715.5,1016.3 700.6,1044.3 732.1,1044.3" fill="#000"/>
<polygon points="757.8,1054.2 742.9,1082.2 774.4,1082.2" fill="#000"/>
<polygon points="807.5,1068.6 792.6,1096.6 824.1,1096.6" fill="#000"/>
<polygon points="865.2,1132.4 850.3,1160.4 881.8,1160.4" fill="#000"/>
<polygon points="954.8,1123.1 939.9,1151.1 971.4,1151.1" fill="#000"/>
<polyline fill="none" stroke="#000" stroke-width="6.6" stroke-linejoin="round" points="246.5,1191.5 275.5,1127.7 304.6,1079.6 346.8,1034.8 404.8,990.4 485.3,1008.9 521.8,1099.1 544.5,1143.3 582.5,1143.8 654.5,1190.9 715.5,1043.7 757.8,1034.4 807.5,1073.2 865.2,1089.2 954.8,1137"/>
<line x1="246.5" y1="1174.4" x2="246.5" y2="1208.6" stroke="#000" stroke-width="3.2"/><line x1="237.8" y1="1174.4" x2="255.2" y2="1174.4" stroke="#000" stroke-width="3"/><line x1="237.8" y1="1208.6" x2="255.2" y2="1208.6" stroke="#000" stroke-width="3"/>
<line x1="275.5" y1="1109" x2="275.5" y2="1146.4" stroke="#000" stroke-width="3.2"/><line x1="266.8" y1="1109" x2="284.2" y2="1109" stroke="#000" stroke-width="3"/><line x1="266.8" y1="1146.4" x2="284.2" y2="1146.4" stroke="#000" stroke-width="3"/>
<line x1="346.8" y1="1008" x2="346.8" y2="1061.6" stroke="#000" stroke-width="3.2"/><line x1="338.1" y1="1008" x2="355.6" y2="1008" stroke="#000" stroke-width="3"/><line x1="338.1" y1="1061.6" x2="355.6" y2="1061.6" stroke="#000" stroke-width="3"/>
<line x1="404.8" y1="973.1" x2="404.8" y2="1007.7" stroke="#000" stroke-width="3.2"/><line x1="396.1" y1="973.1" x2="413.6" y2="973.1" stroke="#000" stroke-width="3"/><line x1="396.1" y1="1007.7" x2="413.6" y2="1007.7" stroke="#000" stroke-width="3"/>
<line x1="521.8" y1="1080.9" x2="521.8" y2="1117.3" stroke="#000" stroke-width="3.2"/><line x1="513" y1="1080.9" x2="530.5" y2="1080.9" stroke="#000" stroke-width="3"/><line x1="513" y1="1117.3" x2="530.5" y2="1117.3" stroke="#000" stroke-width="3"/>
<line x1="544.5" y1="1126.4" x2="544.5" y2="1160.2" stroke="#000" stroke-width="3.2"/><line x1="535.8" y1="1126.4" x2="553.2" y2="1126.4" stroke="#000" stroke-width="3"/><line x1="535.8" y1="1160.2" x2="553.2" y2="1160.2" stroke="#000" stroke-width="3"/>
<line x1="807.5" y1="1053.2" x2="807.5" y2="1093.2" stroke="#000" stroke-width="3.2"/><line x1="798.8" y1="1053.2" x2="816.2" y2="1053.2" stroke="#000" stroke-width="3"/><line x1="798.8" y1="1093.2" x2="816.2" y2="1093.2" stroke="#000" stroke-width="3"/>
<circle cx="245.4" cy="1191.5" r="9.2" fill="#fff" stroke="#000" stroke-width="7.0"/><circle cx="245.4" cy="1191.5" r="6" fill="#0000ff" fill-opacity="0.11" clip-path="url(#scc)"/>
<circle cx="274.3" cy="1127.7" r="9.2" fill="#fff" stroke="#000" stroke-width="7.0"/><circle cx="274.3" cy="1127.7" r="6" fill="#0000ff" fill-opacity="0.11" clip-path="url(#scc)"/>
<circle cx="306" cy="1079.6" r="9.2" fill="#fff" stroke="#000" stroke-width="7.0"/><circle cx="306" cy="1079.6" r="6" fill="#0000ff" fill-opacity="0.11" clip-path="url(#scc)"/>
<circle cx="347.4" cy="1034.8" r="9.2" fill="#fff" stroke="#000" stroke-width="7.0"/><circle cx="347.4" cy="1034.8" r="6" fill="#0000ff" fill-opacity="0.11" clip-path="url(#scc)"/>
<circle cx="404.9" cy="990.4" r="9.2" fill="#fff" stroke="#000" stroke-width="7.0"/><circle cx="404.9" cy="990.4" r="6" fill="#0000ff" fill-opacity="0.11" clip-path="url(#scc)"/>
<circle cx="484.9" cy="1008.9" r="9.2" fill="#fff" stroke="#000" stroke-width="7.0"/><circle cx="484.9" cy="1008.9" r="6" fill="#0000ff" fill-opacity="0.11" clip-path="url(#scc)"/>
<circle cx="522.7" cy="1099.1" r="9.2" fill="#fff" stroke="#000" stroke-width="7.0"/><circle cx="522.7" cy="1099.1" r="6" fill="#0000ff" fill-opacity="0.11" clip-path="url(#scc)"/>
<circle cx="545.3" cy="1143.3" r="9.2" fill="#fff" stroke="#000" stroke-width="7.0"/><circle cx="545.3" cy="1143.3" r="6" fill="#0000ff" fill-opacity="0.11" clip-path="url(#scc)"/>
<circle cx="583.2" cy="1143.8" r="9.2" fill="#fff" stroke="#000" stroke-width="7.0"/><circle cx="583.2" cy="1143.8" r="6" fill="#0000ff" fill-opacity="0.11" clip-path="url(#scc)"/>
<circle cx="654.5" cy="1190.9" r="9.2" fill="#fff" stroke="#000" stroke-width="7.0"/><circle cx="654.5" cy="1190.9" r="6" fill="#0000ff" fill-opacity="0.11" clip-path="url(#scc)"/>
<circle cx="715.2" cy="1043.7" r="9.2" fill="#fff" stroke="#000" stroke-width="7.0"/><circle cx="715.2" cy="1043.7" r="6" fill="#0000ff" fill-opacity="0.11" clip-path="url(#scc)"/>
<circle cx="756.9" cy="1034.4" r="9.2" fill="#fff" stroke="#000" stroke-width="7.0"/><circle cx="756.9" cy="1034.4" r="6" fill="#0000ff" fill-opacity="0.11" clip-path="url(#scc)"/>
<circle cx="807.5" cy="1073.2" r="9.2" fill="#fff" stroke="#000" stroke-width="7.0"/><circle cx="807.5" cy="1073.2" r="6" fill="#0000ff" fill-opacity="0.11" clip-path="url(#scc)"/>
<circle cx="864.7" cy="1089.2" r="9.2" fill="#fff" stroke="#000" stroke-width="7.0"/><circle cx="864.7" cy="1089.2" r="6" fill="#0000ff" fill-opacity="0.11" clip-path="url(#scc)"/>
<circle cx="954.5" cy="1137" r="9.2" fill="#fff" stroke="#000" stroke-width="7.0"/><circle cx="954.5" cy="1137" r="6" fill="#0000ff" fill-opacity="0.11" clip-path="url(#scc)"/>
<polyline fill="none" stroke="#000" stroke-width="6.6" stroke-linejoin="round" points="246.5,1493 275.5,1479.6 304.6,1426 346.8,1403.2 404.8,1371.2 485.3,1413.1 521.8,1388.5 544.5,1449.3 582.5,1485.5 654.5,1498 715.5,1423 757.8,1443.2 807.5,1406.1 865.2,1492.5 954.8,1472"/>
<line x1="246.5" y1="1472" x2="246.5" y2="1514" stroke="#000" stroke-width="3.2"/><line x1="237.8" y1="1472" x2="255.2" y2="1472" stroke="#000" stroke-width="3"/><line x1="237.8" y1="1514" x2="255.2" y2="1514" stroke="#000" stroke-width="3"/>
<line x1="275.5" y1="1451.9" x2="275.5" y2="1507.3" stroke="#000" stroke-width="3.2"/><line x1="266.8" y1="1451.9" x2="284.2" y2="1451.9" stroke="#000" stroke-width="3"/><line x1="266.8" y1="1507.3" x2="284.2" y2="1507.3" stroke="#000" stroke-width="3"/>
<line x1="304.6" y1="1393.5" x2="304.6" y2="1458.5" stroke="#000" stroke-width="3.2"/><line x1="295.9" y1="1393.5" x2="313.4" y2="1393.5" stroke="#000" stroke-width="3"/><line x1="295.9" y1="1458.5" x2="313.4" y2="1458.5" stroke="#000" stroke-width="3"/>
<line x1="346.8" y1="1380" x2="346.8" y2="1426.4" stroke="#000" stroke-width="3.2"/><line x1="338.1" y1="1380" x2="355.6" y2="1380" stroke="#000" stroke-width="3"/><line x1="338.1" y1="1426.4" x2="355.6" y2="1426.4" stroke="#000" stroke-width="3"/>
<line x1="404.8" y1="1356.4" x2="404.8" y2="1386" stroke="#000" stroke-width="3.2"/><line x1="396.1" y1="1356.4" x2="413.6" y2="1356.4" stroke="#000" stroke-width="3"/><line x1="396.1" y1="1386" x2="413.6" y2="1386" stroke="#000" stroke-width="3"/>
<line x1="485.3" y1="1400" x2="485.3" y2="1426.2" stroke="#000" stroke-width="3.2"/><line x1="476.6" y1="1400" x2="494.1" y2="1400" stroke="#000" stroke-width="3"/><line x1="476.6" y1="1426.2" x2="494.1" y2="1426.2" stroke="#000" stroke-width="3"/>
<line x1="521.8" y1="1373.2" x2="521.8" y2="1403.8" stroke="#000" stroke-width="3.2"/><line x1="513" y1="1373.2" x2="530.5" y2="1373.2" stroke="#000" stroke-width="3"/><line x1="513" y1="1403.8" x2="530.5" y2="1403.8" stroke="#000" stroke-width="3"/>
<line x1="544.5" y1="1429.6" x2="544.5" y2="1469" stroke="#000" stroke-width="3.2"/><line x1="535.8" y1="1429.6" x2="553.2" y2="1429.6" stroke="#000" stroke-width="3"/><line x1="535.8" y1="1469" x2="553.2" y2="1469" stroke="#000" stroke-width="3"/>
<line x1="582.5" y1="1468.5" x2="582.5" y2="1502.5" stroke="#000" stroke-width="3.2"/><line x1="573.8" y1="1468.5" x2="591.2" y2="1468.5" stroke="#000" stroke-width="3"/><line x1="573.8" y1="1502.5" x2="591.2" y2="1502.5" stroke="#000" stroke-width="3"/>
<line x1="654.5" y1="1474" x2="654.5" y2="1522" stroke="#000" stroke-width="3.2"/><line x1="645.8" y1="1474" x2="663.2" y2="1474" stroke="#000" stroke-width="3"/><line x1="645.8" y1="1522" x2="663.2" y2="1522" stroke="#000" stroke-width="3"/>
<line x1="715.5" y1="1410.5" x2="715.5" y2="1435.5" stroke="#000" stroke-width="3.2"/><line x1="706.8" y1="1410.5" x2="724.2" y2="1410.5" stroke="#000" stroke-width="3"/><line x1="706.8" y1="1435.5" x2="724.2" y2="1435.5" stroke="#000" stroke-width="3"/>
<line x1="757.8" y1="1423.6" x2="757.8" y2="1462.8" stroke="#000" stroke-width="3.2"/><line x1="749" y1="1423.6" x2="766.5" y2="1423.6" stroke="#000" stroke-width="3"/><line x1="749" y1="1462.8" x2="766.5" y2="1462.8" stroke="#000" stroke-width="3"/>
<line x1="865.2" y1="1480" x2="865.2" y2="1505" stroke="#000" stroke-width="3.2"/><line x1="856.5" y1="1480" x2="874" y2="1480" stroke="#000" stroke-width="3"/><line x1="856.5" y1="1505" x2="874" y2="1505" stroke="#000" stroke-width="3"/>
<line x1="954.8" y1="1460.6" x2="954.8" y2="1483.4" stroke="#000" stroke-width="3.2"/><line x1="946" y1="1460.6" x2="963.5" y2="1460.6" stroke="#000" stroke-width="3"/><line x1="946" y1="1483.4" x2="963.5" y2="1483.4" stroke="#000" stroke-width="3"/>
<polygon points="246.5,1473.4 231.6,1501.4 263.1,1501.4" fill="#000"/>
<polygon points="275.5,1460 260.6,1488 292.1,1488" fill="#000"/>
<polygon points="304.6,1406.4 289.7,1434.4 321.2,1434.4" fill="#000"/>
<polygon points="346.8,1383.6 331.9,1411.6 363.4,1411.6" fill="#000"/>
<polygon points="404.8,1351.6 389.9,1379.6 421.4,1379.6" fill="#000"/>
<polygon points="485.3,1393.5 470.4,1421.5 501.9,1421.5" fill="#000"/>
<polygon points="521.8,1368.9 506.9,1396.9 538.4,1396.9" fill="#000"/>
<polygon points="544.5,1429.7 529.6,1457.7 561.1,1457.7" fill="#000"/>
<polygon points="582.5,1465.9 567.6,1493.9 599.1,1493.9" fill="#000"/>
<polygon points="654.5,1478.4 639.6,1506.4 671.1,1506.4" fill="#000"/>
<polygon points="715.5,1407.4 700.6,1435.4 732.1,1435.4" fill="#000"/>
<polygon points="757.8,1423.6 742.9,1451.6 774.4,1451.6" fill="#000"/>
<polygon points="807.5,1386.5 792.6,1414.5 824.1,1414.5" fill="#000"/>
<polygon points="865.2,1472.9 850.3,1500.9 881.8,1500.9" fill="#000"/>
<polygon points="954.8,1452.4 939.9,1480.4 971.4,1480.4" fill="#000"/>
<polyline fill="none" stroke="#000" stroke-width="6.6" stroke-linejoin="round" points="246.5,1601.2 275.5,1552 304.6,1523.8 346.8,1500 404.8,1492.5 485.3,1421.5 521.8,1500.8 544.5,1532.9 582.5,1539.4 654.5,1597 715.5,1498.3 757.8,1542.7 807.5,1497.8 865.2,1533.4 954.8,1574.6"/>
<line x1="246.5" y1="1580.7" x2="246.5" y2="1621.7" stroke="#000" stroke-width="3.2"/><line x1="237.8" y1="1580.7" x2="255.2" y2="1580.7" stroke="#000" stroke-width="3"/><line x1="237.8" y1="1621.7" x2="255.2" y2="1621.7" stroke="#000" stroke-width="3"/>
<line x1="346.8" y1="1485.4" x2="346.8" y2="1514.6" stroke="#000" stroke-width="3.2"/><line x1="338.1" y1="1485.4" x2="355.6" y2="1485.4" stroke="#000" stroke-width="3"/><line x1="338.1" y1="1514.6" x2="355.6" y2="1514.6" stroke="#000" stroke-width="3"/>
<line x1="404.8" y1="1472.2" x2="404.8" y2="1512.8" stroke="#000" stroke-width="3.2"/><line x1="396.1" y1="1472.2" x2="413.6" y2="1472.2" stroke="#000" stroke-width="3"/><line x1="396.1" y1="1512.8" x2="413.6" y2="1512.8" stroke="#000" stroke-width="3"/>
<line x1="485.3" y1="1403.5" x2="485.3" y2="1439.5" stroke="#000" stroke-width="3.2"/><line x1="476.6" y1="1403.5" x2="494.1" y2="1403.5" stroke="#000" stroke-width="3"/><line x1="476.6" y1="1439.5" x2="494.1" y2="1439.5" stroke="#000" stroke-width="3"/>
<line x1="521.8" y1="1487.3" x2="521.8" y2="1514.3" stroke="#000" stroke-width="3.2"/><line x1="513" y1="1487.3" x2="530.5" y2="1487.3" stroke="#000" stroke-width="3"/><line x1="513" y1="1514.3" x2="530.5" y2="1514.3" stroke="#000" stroke-width="3"/>
<line x1="544.5" y1="1515.1" x2="544.5" y2="1550.7" stroke="#000" stroke-width="3.2"/><line x1="535.8" y1="1515.1" x2="553.2" y2="1515.1" stroke="#000" stroke-width="3"/><line x1="535.8" y1="1550.7" x2="553.2" y2="1550.7" stroke="#000" stroke-width="3"/>
<line x1="582.5" y1="1517.7" x2="582.5" y2="1561.1" stroke="#000" stroke-width="3.2"/><line x1="573.8" y1="1517.7" x2="591.2" y2="1517.7" stroke="#000" stroke-width="3"/><line x1="573.8" y1="1561.1" x2="591.2" y2="1561.1" stroke="#000" stroke-width="3"/>
<line x1="715.5" y1="1471.5" x2="715.5" y2="1525.1" stroke="#000" stroke-width="3.2"/><line x1="706.8" y1="1471.5" x2="724.2" y2="1471.5" stroke="#000" stroke-width="3"/><line x1="706.8" y1="1525.1" x2="724.2" y2="1525.1" stroke="#000" stroke-width="3"/>
<circle cx="245.4" cy="1601.2" r="9.2" fill="#fff" stroke="#000" stroke-width="7.0"/><circle cx="245.4" cy="1601.2" r="6" fill="#0000ff" fill-opacity="0.11" clip-path="url(#scd)"/>
<circle cx="274.3" cy="1552" r="9.2" fill="#fff" stroke="#000" stroke-width="7.0"/><circle cx="274.3" cy="1552" r="6" fill="#0000ff" fill-opacity="0.11" clip-path="url(#scd)"/>
<circle cx="306" cy="1523.8" r="9.2" fill="#fff" stroke="#000" stroke-width="7.0"/><circle cx="306" cy="1523.8" r="6" fill="#0000ff" fill-opacity="0.11" clip-path="url(#scd)"/>
<circle cx="347.4" cy="1500" r="9.2" fill="#fff" stroke="#000" stroke-width="7.0"/><circle cx="347.4" cy="1500" r="6" fill="#0000ff" fill-opacity="0.11" clip-path="url(#scd)"/>
<circle cx="404.9" cy="1492.5" r="9.2" fill="#fff" stroke="#000" stroke-width="7.0"/><circle cx="404.9" cy="1492.5" r="6" fill="#0000ff" fill-opacity="0.11" clip-path="url(#scd)"/>
<circle cx="484.9" cy="1421.5" r="9.2" fill="#fff" stroke="#000" stroke-width="7.0"/><circle cx="484.9" cy="1421.5" r="6" fill="#0000ff" fill-opacity="0.11" clip-path="url(#scd)"/>
<circle cx="522.7" cy="1500.8" r="9.2" fill="#fff" stroke="#000" stroke-width="7.0"/><circle cx="522.7" cy="1500.8" r="6" fill="#0000ff" fill-opacity="0.11" clip-path="url(#scd)"/>
<circle cx="545.3" cy="1532.9" r="9.2" fill="#fff" stroke="#000" stroke-width="7.0"/><circle cx="545.3" cy="1532.9" r="6" fill="#0000ff" fill-opacity="0.11" clip-path="url(#scd)"/>
<circle cx="583.2" cy="1539.4" r="9.2" fill="#fff" stroke="#000" stroke-width="7.0"/><circle cx="583.2" cy="1539.4" r="6" fill="#0000ff" fill-opacity="0.11" clip-path="url(#scd)"/>
<circle cx="654.5" cy="1597" r="9.2" fill="#fff" stroke="#000" stroke-width="7.0"/><circle cx="654.5" cy="1597" r="6" fill="#0000ff" fill-opacity="0.11" clip-path="url(#scd)"/>
<circle cx="715.2" cy="1498.3" r="9.2" fill="#fff" stroke="#000" stroke-width="7.0"/><circle cx="715.2" cy="1498.3" r="6" fill="#0000ff" fill-opacity="0.11" clip-path="url(#scd)"/>
<circle cx="756.9" cy="1542.7" r="9.2" fill="#fff" stroke="#000" stroke-width="7.0"/><circle cx="756.9" cy="1542.7" r="6" fill="#0000ff" fill-opacity="0.11" clip-path="url(#scd)"/>
<circle cx="807.5" cy="1497.8" r="9.2" fill="#fff" stroke="#000" stroke-width="7.0"/><circle cx="807.5" cy="1497.8" r="6" fill="#0000ff" fill-opacity="0.11" clip-path="url(#scd)"/>
<circle cx="864.7" cy="1533.4" r="9.2" fill="#fff" stroke="#000" stroke-width="7.0"/><circle cx="864.7" cy="1533.4" r="6" fill="#0000ff" fill-opacity="0.11" clip-path="url(#scd)"/>
<circle cx="954.5" cy="1574.6" r="9.2" fill="#fff" stroke="#000" stroke-width="7.0"/><circle cx="954.5" cy="1574.6" r="6" fill="#0000ff" fill-opacity="0.11" clip-path="url(#scd)"/>
<text x="187.9" y="141.0" class="pl">a)</text>
<text x="188.7" y="549.6" class="pl">b)</text>
<text x="187.9" y="939.5" class="pl">c)</text>
<text x="187.9" y="1344.0" class="pl">d)</text>
<text x="581" y="1753.5" text-anchor="middle" class="lab">Month</text>
<text transform="translate(101.2,285) rotate(-90)" text-anchor="middle" class="lab">T (°C)</text>
<text transform="translate(39.5,0) rotate(-90)" class="lab"><tspan x="-828.6" y="0">DIC</tspan><tspan class="sub" x="-762.5" y="19.3">cf</tspan><tspan x="-725.2" y="0">(µmol kg</tspan><tspan class="sub" x="-576.3" y="-19.5">-1</tspan><tspan x="-546.7" y="0">)</tspan></text>
<text transform="translate(71.1,0) rotate(-90)" class="lab"><tspan x="-1120.1" y="0">pH</tspan><tspan class="sub" x="-1068.8" y="19.1">cf</tspan></text>
<text transform="translate(90,0) rotate(-90)" class="lab"><tspan x="-1508.4" y="0" style="font-size:37px">Ω</tspan><tspan class="sub" x="-1478" y="13.2">cf</tspan></text>
<rect x="649.3" y="1.3" width="341.2" height="86.5" fill="#fff" stroke="#262626" stroke-width="2.8"/>
<line x1="665.5" y1="25.9" x2="768.8" y2="25.9" stroke="#000" stroke-width="6.4"/>
<polygon points="718.5,6.3 703,34.7 734.5,34.7" fill="#000"/>
<line x1="665.5" y1="63.3" x2="768.8" y2="63.3" stroke="#000" stroke-width="6.6"/>
<circle cx="718" cy="63.9" r="9.2" fill="#fff" stroke="#000" stroke-width="7.0"/>
<text x="784" y="36.3" class="lg">A. yongei</text>
<text x="784" y="74.7" class="lg" style="font-size:32px;word-spacing:3px">P. damicornis</text>
</svg>
</body></html>
